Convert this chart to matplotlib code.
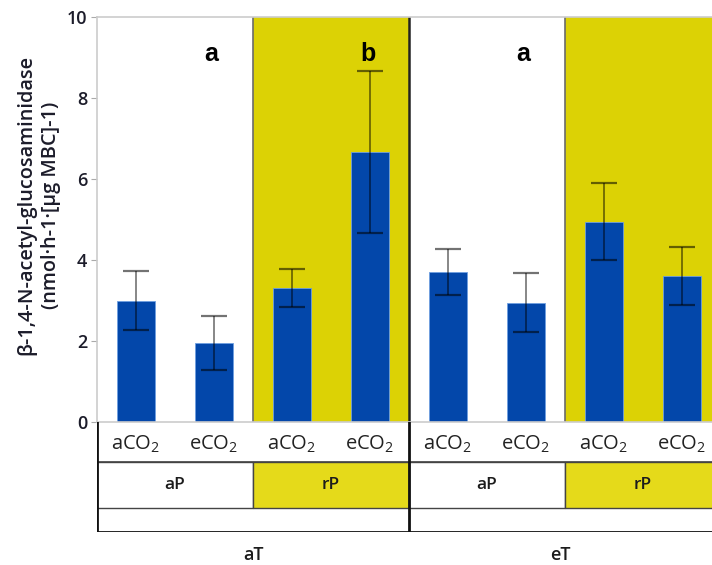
import matplotlib
matplotlib.use("Agg")
import matplotlib.pyplot as plt
from matplotlib.patches import Rectangle
import numpy as np

# enzyme activity per treatment (order: aT-aP, aT-rP, eT-aP, eT-rP; aCO2 then eCO2)
co2_labels = ["aCO$_{2}$", "eCO$_{2}$"] * 4
p_labels = ["aP", "rP", "aP", "rP"]
t_labels = ["aT", "eT"]
means = [3.0, 1.95, 3.3, 6.67, 3.7, 2.95, 4.95, 3.6]
errs = [0.72, 0.67, 0.47, 2.0, 0.56, 0.74, 0.95, 0.72]
sig_letters = ["a", "b", "a"]
sig_pos = [1, 3, 5]

W, H = 712, 565
fig = plt.figure(figsize=(W / 100, H / 100), dpi=100)
plt.rcParams['font.family'] = ['Open Sans', 'DejaVu Sans']
plt.rcParams['mathtext.fontset'] = 'custom'
plt.rcParams['mathtext.rm'] = 'Open Sans'
plt.rcParams['mathtext.it'] = 'Open Sans'
plt.rcParams['mathtext.default'] = 'regular'

x = np.arange(len(means))
xlim = (-0.5, len(means) - 0.5)

# main plot, spilling past the right edge of the canvas
ax = fig.add_axes([97 / W, (H - 422) / H, 624 / W, 405 / H])
yellow = '#DCD205'
for g in range(len(p_labels)):
    if p_labels[g] == "rP":
        ax.axvspan(2 * g - 0.5, 2 * g + 1.5, color=yellow, zorder=0, lw=0)
ax.axvline(1.5, color='#6b6b6b', lw=1.2, zorder=1)
ax.axvline(3.5, color='#222222', lw=1.8, zorder=1)
ax.axvline(5.5, color='#6b6b6b', lw=1.2, zorder=1)

ax.bar(x, means, width=0.49, color='#0347AA', edgecolor='#6f9fe0', lw=0.6, zorder=2)
ax.errorbar(x, means, yerr=errs, fmt='none', ecolor=(0, 0, 0, 0.55),
            elinewidth=1.2, capsize=9.5, capthick=1.6, zorder=3)

for lab, p in zip(sig_letters, sig_pos):
    ax.text(p - 0.03, 8.92, lab, ha='center', va='baseline', fontsize=18,
            fontweight='bold', family=['Liberation Sans', 'DejaVu Sans'], color='black')

ax.set_xlim(*xlim)
ax.set_ylim(0, 10)
ax.set_xticks([])
ax.set_yticks(np.arange(0, 11, 2))
ax.tick_params(axis='y', length=4, color='#aaaaaa', labelsize=13,
               labelcolor='#1c1c2a', pad=3)
for t in ax.get_yticklabels():
    t.set_fontweight('semibold')
for s in ['left', 'top', 'bottom']:
    ax.spines[s].set_color('#cccccc')
    ax.spines[s].set_linewidth(1.2)
ax.spines['right'].set_visible(False)
ax.set_ylabel("β-1,4-N-acetyl-glucosaminidase\n(nmol·h-1·[μg MBC]-1)",
              fontsize=14.3, fontweight='semibold', color='#1c1c2a',
              linespacing=1.3)
ax.yaxis.set_label_coords(-0.058, 0.535)

# grouping table under the bars
tb = fig.add_axes([97 / W, (H - 532) / H, 624 / W, 110 / H])
tb.set_xlim(*xlim)
tb.set_ylim(0, 1)
tb.axis('off')
row_top, row_mid, row_low = 1.0, 1 - 40 / 110, 1 - 86 / 110
table_yellow = '#E5DA1A'
for g, lab in enumerate(p_labels):
    fc = table_yellow if lab == "rP" else 'white'
    tb.add_patch(Rectangle((2 * g - 0.5, row_low), 2, row_mid - row_low,
                           facecolor=fc, edgecolor='#444444', lw=1.0, zorder=1))
    tb.text(2 * g + 0.5, (row_mid + row_low) / 2, lab, ha='center', va='center',
            fontsize=12.5, fontweight='semibold', color='#1c1c1c')
for xi, lab in zip(x, co2_labels):
    tb.text(xi, (row_top + row_mid) / 2 - 0.02, lab, ha='center', va='center',
            fontsize=14.5, color='#222222')
tb.axhline(row_mid, color='#444444', lw=1.2)
tb.axhline(0, color='#111111', lw=2.0)
tb.axvline(-0.5, color='#111111', lw=2.0)
tb.axvline(3.5, color='#111111', lw=2.0)
for k, lab in enumerate(t_labels):
    cx = 1.5 if k == 0 else (3.5 + (712 - 97) / 78 - 0.5) / 2
    tb.text(cx, -23 / 110, lab, ha='center', va='center', fontsize=13,
            fontweight='semibold', color='#1c1c1c', clip_on=False)

fig.savefig("out.png", dpi=100)
